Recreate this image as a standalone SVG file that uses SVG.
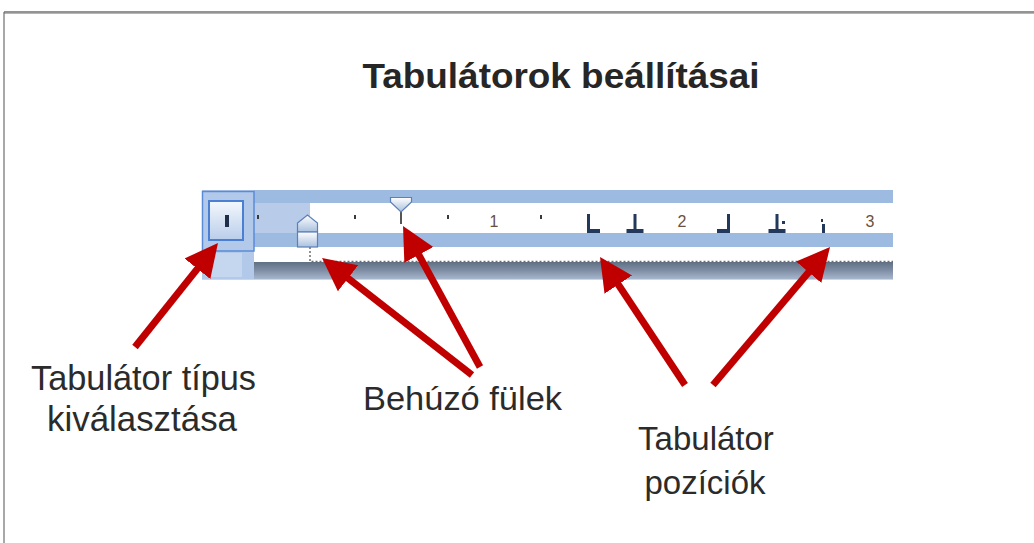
<svg xmlns="http://www.w3.org/2000/svg" width="1034" height="543" viewBox="0 0 1034 543">
  <defs>
    <style>
      .label { font-family: "Liberation Sans", Arial, sans-serif; fill: #2b2b2b; }
      .title { font-family: "Liberation Sans", Arial, sans-serif; font-weight: bold; fill: #262626; }
      .num { font-family: "Liberation Sans", Arial, sans-serif; font-size: 16px; fill: #6a5040; }
      .arrow { stroke: #c00000; stroke-width: 7; fill: none; marker-end: url(#head); }
      .tab { fill: #22395c; }
      .tick { fill: #3a3a3a; }
      .dots { stroke: #6e6e6e; stroke-width: 1.5; stroke-dasharray: 2 2; fill: none; }
    </style>
    <marker id="head" markerUnits="userSpaceOnUse" markerWidth="34" markerHeight="34" refX="13" refY="16.5" orient="auto">
      <path d="M0,0 L33,16.5 L0,33 z" fill="#c00000"/>
    </marker>
    <linearGradient id="shade" x1="0" y1="0" x2="0" y2="1">
      <stop offset="0" stop-color="#5f6f84"/>
      <stop offset="0.5" stop-color="#7f8ea4"/>
      <stop offset="1" stop-color="#a6b6cc"/>
    </linearGradient>
    <linearGradient id="btn" x1="0" y1="0" x2="0" y2="1">
      <stop offset="0" stop-color="#f4f8fd"/>
      <stop offset="1" stop-color="#b9cdea"/>
    </linearGradient>
    <linearGradient id="marker" x1="0" y1="0" x2="0" y2="1">
      <stop offset="0" stop-color="#ffffff"/>
      <stop offset="1" stop-color="#a9c0de"/>
    </linearGradient>
  </defs>

  <!-- frame -->
  <rect x="0" y="0" width="1034" height="543" fill="#ffffff"/>
  <line x1="4" y1="12" x2="1034" y2="12" stroke="#6f6f6f" stroke-width="1.5"/>
  <line x1="4" y1="13.5" x2="1034" y2="13.5" stroke="#b5b5b5" stroke-width="1"/>
  <line x1="4" y1="12" x2="4" y2="543" stroke="#6f6f6f" stroke-width="1.2"/>

  <text class="title" x="561" y="88" font-size="35" text-anchor="middle" textLength="397" lengthAdjust="spacingAndGlyphs">Tabulátorok beállításai</text>

  <!-- ruler -->
  <g id="ruler">
    <rect x="202" y="190" width="691" height="13" fill="#9dbbe1"/>
    <rect x="202" y="203" width="691" height="30" fill="#ffffff"/>
    <rect x="254" y="203" width="56" height="30" fill="#b8cce9"/>
    <rect x="202" y="233" width="691" height="14" fill="#9dbbe1"/>
    <rect x="202" y="247" width="691" height="15" fill="#ffffff"/>
    <rect x="202" y="262" width="691" height="17" fill="url(#shade)"/>
    <line x1="202" y1="279.5" x2="893" y2="279.5" stroke="#c9d7ea" stroke-width="1"/>
    <path class="dots" d="M310,247 V261.5 H893"/>

    <!-- ticks and numbers -->
    <rect class="tick" x="257" y="215" width="2" height="4"/>
    <rect class="tick" x="354" y="215" width="2" height="4"/>
    <rect class="tick" x="447" y="215" width="2" height="4"/>
    <rect class="tick" x="540" y="215" width="2" height="4"/>
    <text class="num" x="494" y="227" text-anchor="middle">1</text>
    <text class="num" x="682" y="227" text-anchor="middle">2</text>
    <text class="num" x="870" y="227" text-anchor="middle">3</text>
  </g>

  <!-- tab type selector -->
  <g id="selector">
    <rect x="202" y="190" width="52" height="89" fill="#b3c9ea"/>
    <rect x="206" y="253" width="36" height="24" fill="#c5d6ef"/>
    <rect x="202.5" y="191.5" width="51.5" height="59.5" fill="none" stroke="#5b8ad6" stroke-width="1.5"/>
    <rect x="209" y="201" width="34" height="39" fill="url(#btn)" stroke="#4a7fd4" stroke-width="2"/>
    <rect x="225" y="215" width="4" height="12" fill="#1f2f4a"/>
  </g>

  <!-- indent markers -->
  <g id="hanging-indent">
    <path d="M297.5,223 L307.5,215 L317.5,223 L317.5,232 L297.5,232 z" fill="url(#marker)" stroke="#5b7fb7" stroke-width="1.2"/>
    <rect x="297.5" y="232" width="20" height="15" fill="url(#marker)" stroke="#5b7fb7" stroke-width="1.2"/>
  </g>
  <g id="first-line-indent">
    <line x1="401" y1="210" x2="401" y2="224" stroke="#555" stroke-width="2"/>
    <path d="M390.5,197.5 L411.5,197.5 L411.5,202 L401,212 L390.5,202 z" fill="url(#marker)" stroke="#5b7fb7" stroke-width="1.2"/>
  </g>

  <!-- tab stops -->
  <g id="tab-stops">
    <path class="tab" d="M587,214 h3 v15 h10 v4 h-13 z"/>
    <path class="tab" d="M633.5,214 h3 v15 h7 v4 h-17 v-4 h7 z"/>
    <path class="tab" d="M727,214 h3 v19 h-13 v-4 h10 z"/>
    <path class="tab" d="M775.5,214 h3 v15 h7 v4 h-17 v-4 h7 z"/>
    <rect class="tab" x="782" y="221" width="3" height="3"/>
    <rect class="tab" x="821" y="219" width="2" height="3"/>
    <rect class="tab" x="822" y="224" width="3" height="9"/>
  </g>

  <!-- arrows -->
  <g id="connectors">
    <line class="arrow" x1="135" y1="347" x2="205.5" y2="258.6"/>
    <line class="arrow" x1="472" y1="375" x2="337.8" y2="270.3"/>
    <line class="arrow" x1="480" y1="367" x2="412.6" y2="243.5"/>
    <line class="arrow" x1="685" y1="385" x2="611.1" y2="273.7"/>
    <line class="arrow" x1="713" y1="385" x2="817.1" y2="262.3"/>
  </g>

  <!-- labels -->
  <g id="label-selector">
    <text class="label" x="31" y="390" font-size="35" textLength="225" lengthAdjust="spacingAndGlyphs">Tabulátor típus</text>
    <text class="label" x="47" y="431" font-size="35" textLength="190" lengthAdjust="spacingAndGlyphs">kiválasztása</text>
  </g>
  <g id="label-indent">
    <text class="label" x="363" y="410" font-size="34" textLength="199" lengthAdjust="spacingAndGlyphs">Behúzó fülek</text>
  </g>
  <g id="label-tabs">
    <text class="label" x="706" y="450" font-size="33" text-anchor="middle">Tabulátor</text>
    <text class="label" x="705" y="494" font-size="33" text-anchor="middle">pozíciók</text>
  </g>
</svg>
